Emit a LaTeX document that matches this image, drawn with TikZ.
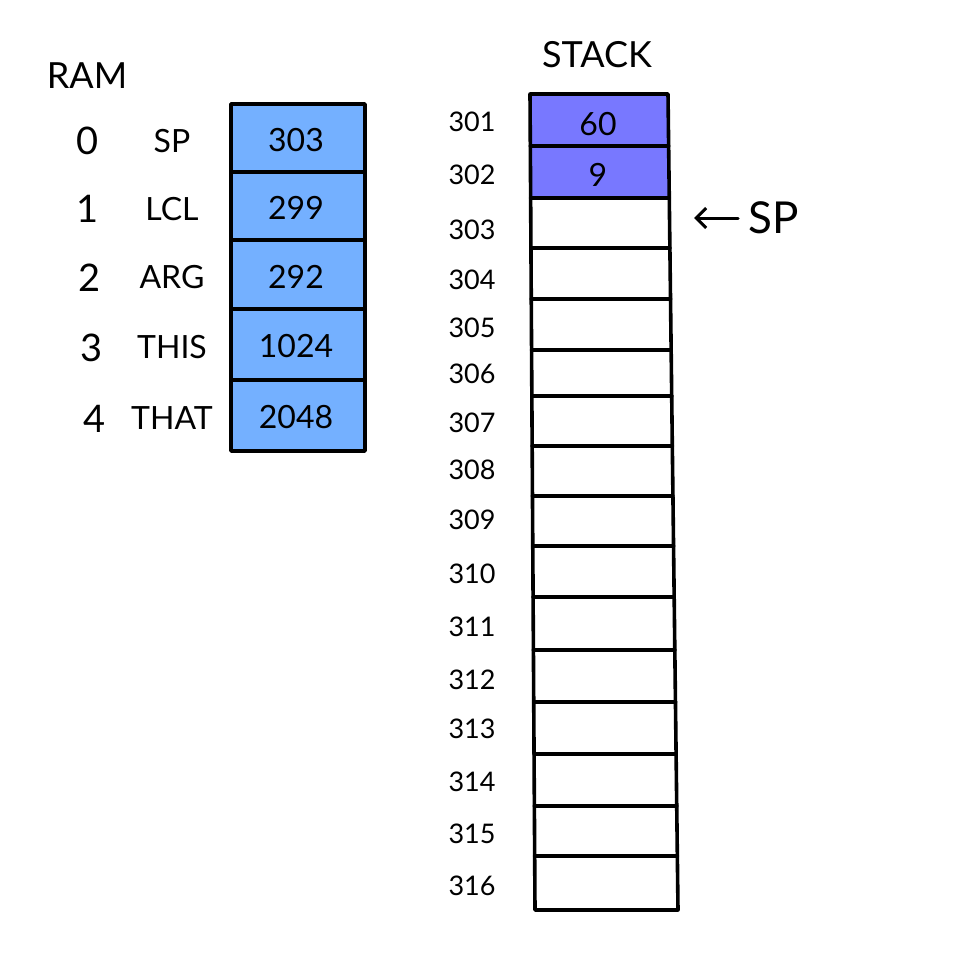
\documentclass[tikz,border=0pt]{standalone}
\usepackage{fontspec}
\usetikzlibrary{arrows.meta}
\setmainfont{Lato}
\definecolor{ramblue}{RGB}{116,176,255}
\definecolor{stackpurple}{RGB}{120,120,255}
\tikzset{
  cellline/.style={line width=3.6pt, line join=round, line cap=round},
  bigtxt/.style={font=\fontsize{36}{38}\selectfont, inner sep=0pt},
  idxtxt/.style={font=\fontsize{38}{40}\selectfont, inner sep=0pt},
  midtxt/.style={font=\fontsize{32}{34}\selectfont, inner sep=0pt},
  addrtxt/.style={font=\fontsize{27}{29}\selectfont, inner sep=0pt},
}
\begin{document}
\begin{tikzpicture}[x=1pt,y=-1pt]
\useasboundingbox (0,0) rectangle (960,960);
% RAM
\node[bigtxt] (ramlbl) at (87,76) {RAM};
\foreach \t/\b/\v/\i/\n/\ix [count=\k] in {104/172/303/0/SP/88, 172/240/299/1/LCL/88, 240/309/292/2/ARG/90, 309/380/1024/3/THIS/92, 380/451/2048/4/THAT/95}{
  \fill[ramblue] (231,\t) rectangle (365,\b);
  \node[midtxt] (ramv\k) at (296,{(\t+\b)/2+2}) {\v};
  \node[idxtxt] (rami\k) at (\ix,{(\t+\b)/2+3}) {\i};
  \node[midtxt] (ramn\k) at (172,{(\t+\b)/2+3}) {\n};
}
\foreach \y in {172,240,309,380}{
  \draw[cellline] (231,\y) -- (365,\y);
}
\draw[cellline] (231,104) rectangle (365,451);
% STACK
\node[bigtxt] (stacklbl) at (597,55) {STACK};
\fill[stackpurple] (530,94) -- (668,94) -- (669.6,198) -- (530.6,198) -- cycle;
\foreach \y in {146,198,248,299,350,396,446,496,546,597,650,702,754,806,856}{
  \pgfmathsetmacro\xl{530+(\y-94)*5/816}
  \pgfmathsetmacro\xr{668+(\y-94)*10/816}
  \draw[cellline] (\xl,\y) -- (\xr,\y);
}
\draw[cellline] (530,94) -- (668,94) -- (678,910) -- (535,910) -- cycle;
\node[midtxt] (s1) at (598,124) {60};
\node[midtxt] (s2) at (598,175) {9};
\foreach \a/\y [count=\k] in {301/122,302/175,303/230,304/280,305/328,306/374,307/423,308/470,309/520,310/574,311/627,312/680,313/729,314/782,315/834,316/886}{
  \node[addrtxt] (addr\k) at (472,\y) {\a};
}
\node[font=\fontsize{44}{46}\selectfont, inner sep=0pt] (sp) at (774,218) {SP};
\coordinate (spstart) at (738,218);
\coordinate (spend) at (694,218);
\draw[line width=3pt, line cap=round, -{Straight Barb[length=10pt,width=20pt]}] (spstart) -- (spend);
\end{tikzpicture}
\end{document}
